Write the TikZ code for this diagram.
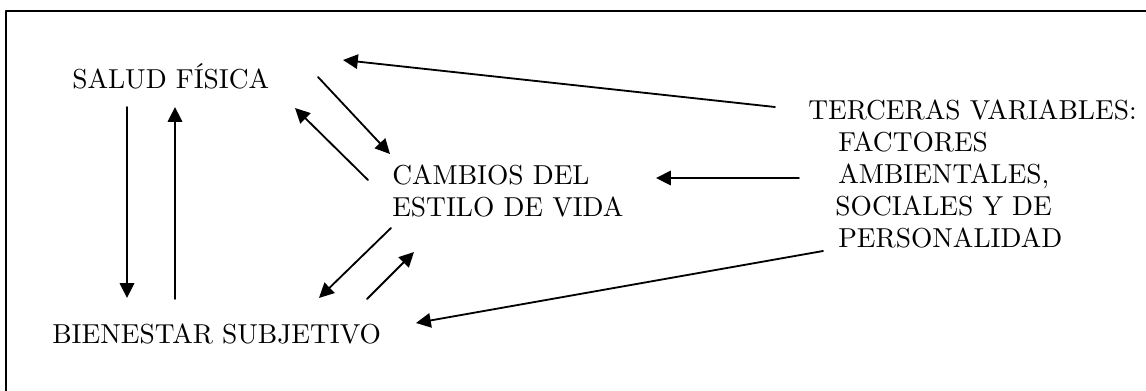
\documentclass[tikz,border=0pt]{standalone}
\usepackage{fontspec}
\setmainfont{lmroman10-regular}[Extension=.otf]
\usetikzlibrary{arrows.meta,calc}
\begin{document}
\begin{tikzpicture}[line cap=round,line join=round,>={Triangle[length=0.37cm,width=0.36cm]},x=0.025cm,y=-0.025cm,
	lbl/.style={inner sep=0pt,font=\fontsize{19.5}{22.7}\selectfont},
	con/.style={line width=1.3pt,->}]
		\useasboundingbox (0,0) rectangle (1146,390);
		\clip (0,0) rectangle (1146,390);
		\draw [line width=1.4pt] (6,11) rectangle (1170,420);
		\node[lbl,anchor=base west] (salud) at (72,88) {SALUD FÍSICA};
		\node[lbl,anchor=base west] (bienestar) at (52,343) {BIENESTAR SUBJETIVO};
		\node[lbl,anchor=north west,align=left] (cambios) at (392,165) {CAMBIOS DEL\\ESTILO DE VIDA};
		\node[lbl,anchor=north west,align=left] (terceras) at (808,100) {TERCERAS VARIABLES:\\\hspace*{0.75cm}FACTORES\\\hspace*{0.75cm}AMBIENTALES,\\\hspace*{0.68cm}SOCIALES Y DE\\\hspace*{0.75cm}PERSONALIDAD};
		\draw [con] ($(salud.base west)+(55,19)$) -- ($(bienestar.base west)+(75,-45)$);
		\draw [con] ($(bienestar.base west)+(123,-44)$) -- ($(salud.base west)+(103,19)$);
		\draw [con] ($(salud.base west)+(246,-11)$) -- ($(cambios.north west)+(-2,-11)$);
		\draw [con] ($(cambios.north west)+(-24,15)$) -- ($(salud.base west)+(223,20)$);
		\draw [con] ($(cambios.north west)+(-1,63)$) -- ($(bienestar.base west)+(267,-45)$);
		\draw [con] ($(bienestar.base west)+(315,-44)$) -- ($(cambios.north west)+(22,87)$);
		\draw [con] ($(terceras.north west)+(-33,7)$) -- ($(salud.base west)+(271,-28)$);
		\draw [con] ($(terceras.north west)+(-9,78)$) -- ($(cambios.north west)+(264,13)$);
		\draw [con] ($(terceras.north west)+(15,151)$) -- ($(bienestar.base west)+(364,-20)$);
	\end{tikzpicture}
\end{document}
